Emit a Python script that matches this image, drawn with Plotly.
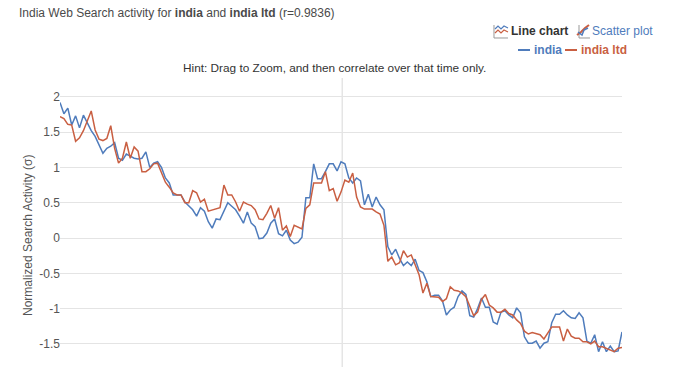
import plotly.graph_objects as go

india = [1.92,1.76,1.84,1.60,1.73,1.56,1.74,1.62,1.52,1.44,1.32,1.20,1.27,1.30,1.35,1.13,1.10,1.19,1.16,1.13,1.12,1.13,1.22,1.00,1.06,1.08,1.00,0.85,0.78,0.61,0.61,0.61,0.51,
0.46,0.40,0.31,0.43,0.38,0.23,0.14,0.27,0.26,0.38,0.50,0.45,0.40,0.31,0.21,0.37,0.21,0.16,-0.01,0.00,0.07,0.21,0.27,0.06,0.03,0.11,-0.03,-0.08,-0.06,0.01,0.57,0.57,1.05,0.84,0.84,0.94,1.05,
1.05,0.95,1.08,1.05,0.85,0.78,0.85,0.81,0.47,0.62,0.44,0.58,0.47,0.40,-0.12,-0.24,-0.16,-0.29,-0.39,-0.34,-0.39,-0.30,-0.46,-0.49,-0.62,-0.83,-0.81,-0.81,-0.89,-1.09,-1.02,-0.98,-0.83,-0.75,-0.80,-1.10,-1.12,-1.00,
-0.85,-0.98,-0.98,-1.19,-1.22,-1.05,-1.03,-1.09,-1.13,-0.99,-1.06,-1.40,-1.49,-1.49,-1.46,-1.56,-1.49,-1.47,-1.20,-1.08,-1.08,-1.03,-1.09,-1.13,-1.14,-1.06,-1.13,-1.46,-1.49,-1.37,-1.61,-1.47,-1.61,-1.53,-1.61,-1.60,-1.33]
india_ltd = [1.72,1.69,1.61,1.60,1.37,1.42,1.52,1.67,1.80,1.53,1.40,1.38,1.41,1.59,1.27,1.06,1.13,1.36,1.13,1.29,1.23,0.94,0.94,0.98,1.05,1.06,0.92,0.79,0.72,0.64,0.61,0.61,0.50,
0.50,0.67,0.64,0.51,0.55,0.38,0.40,0.41,0.43,0.75,0.61,0.61,0.51,0.38,0.51,0.48,0.46,0.40,0.27,0.26,0.35,0.46,0.28,0.43,0.11,0.17,0.02,0.18,0.16,0.13,0.42,0.47,0.78,0.78,0.78,0.94,0.67,
0.70,0.52,0.65,0.82,0.79,0.92,0.58,0.44,0.41,0.41,0.41,0.37,0.34,0.18,-0.33,-0.27,-0.38,-0.35,-0.18,-0.27,-0.24,-0.38,-0.52,-0.78,-0.64,-0.83,-0.84,-0.84,-0.90,-0.86,-0.69,-0.74,-0.75,-0.78,-0.83,-0.98,-1.10,-1.05,
-0.87,-0.80,-0.95,-0.99,-1.05,-1.05,-1.01,-1.07,-1.09,-1.16,-1.21,-1.32,-1.36,-1.34,-1.36,-1.37,-1.43,-1.35,-1.26,-1.26,-1.26,-1.46,-1.29,-1.39,-1.42,-1.42,-1.47,-1.47,-1.50,-1.46,-1.54,-1.54,-1.56,-1.59,-1.61,-1.56,-1.55]
time_index = list(range(len(india)))
y_ticks = [2, 1.5, 1, 0.5, 0, -0.5, -1, -1.5]
y_tick_labels = ["2", "1.5", "1", "0.5", "0", "-0.5", "-1", "-1.5"]
crosshair_at = 72.3

W, H = 688, 367
L, R, T, B = 60, 622, 78, 367
BLUE, RED = "#4f7cbc", "#c95f42"
FONT = "Liberation Sans"

def px(x):
    return (x - L) / (R - L)
def py(y):
    return (B - y) / (B - T)

fig = go.Figure()
fig.add_trace(go.Scatter(x=time_index, y=india, mode="lines", name="india",
                         line=dict(color=BLUE, width=1.5), hoverinfo="y"))
fig.add_trace(go.Scatter(x=time_index, y=india_ltd, mode="lines", name="india ltd",
                         line=dict(color=RED, width=1.5), hoverinfo="y"))

def note(x, y, text, size=12, color="#444", **kw):
    return dict(x=px(x - 2), y=py(y), xref="paper", yref="paper", text=text, showarrow=False,
                xanchor="left", yanchor="middle", align="left",
                font=dict(family=FONT, size=size, color=color), **kw)

annotations = [
    note(18.5, 13, "India Web Search activity for <b>india</b> and <b>india ltd</b> (r=0.9836)", 12, "#4a4a4a"),
    note(510.5, 31, "<b>Line chart</b>", 12, "#333"),
    note(592, 31, "Scatter plot", 12, BLUE),
    note(534, 50, "<b>india</b>", 12, BLUE),
    note(581, 50, "<b>india ltd</b>", 12, RED),
    note(183, 68, "Hint: Drag to Zoom, and then correlate over that time only.", 11.8, "#333"),
    dict(x=px(27.5), y=py(235.5), xref="paper", yref="paper", text="Normalized Search Activity (σ)",
         showarrow=False, textangle=-90, xanchor="center", yanchor="middle",
         font=dict(family=FONT, size=12, color="#555")),
]

def seg(x0, y0, x1, y1, color, width=1.5):
    return dict(type="line", xref="paper", yref="paper", x0=px(x0), x1=px(x1),
                y0=py(y0), y1=py(y1), line=dict(color=color, width=width))

def poly(points, color, width=1):
    d = "M" + " L".join(f"{px(a):.5f},{py(b):.5f}" for a, b in points)
    return dict(type="path", xref="paper", yref="paper", path=d, line=dict(color=color, width=width))

shapes = [
    dict(type="line", x0=crosshair_at, x1=crosshair_at, xref="x", yref="paper", y0=0, y1=1,
         line=dict(color="#d8d8d8", width=1), layer="below"),
    seg(518, 50, 530, 50, BLUE, 2),
    seg(565, 50, 577, 50, RED, 2),
    # line-chart icon
    poly([(494, 25), (494, 38), (508, 38)], "#999", 1),
    poly([(495, 29), (498, 26), (501, 29), (504, 26), (508, 28)], BLUE, 1.2),
    poly([(495, 33), (498, 30), (501, 33), (504, 30), (508, 32)], RED, 1.2),
    # scatter-plot icon
    poly([(579, 25), (579, 38), (590, 38)], "#999", 1),
    poly([(577, 35), (581, 32), (585, 28), (589, 25)], RED, 2),
    poly([(578, 32), (582, 35), (584, 30), (588, 28)], BLUE, 1.5),
]

fig.update_layout(
    width=W, height=H, autosize=False,
    margin=dict(l=L, r=W - R, t=T, b=H - B, pad=0),
    paper_bgcolor="white", plot_bgcolor="white",
    showlegend=False, annotations=annotations, shapes=shapes,
    font=dict(family=FONT, size=12, color="#444"),
    xaxis=dict(range=[0, len(india) - 1], showgrid=False, zeroline=False,
               showticklabels=False, ticks="", showline=False),
    yaxis=dict(range=[(238 - B) / 70.6, (238 - T) / 70.6], tickvals=y_ticks, ticktext=y_tick_labels,
               showgrid=True, gridcolor="#e4e4e4", gridwidth=1, zeroline=False, ticks="",
               showline=False, ticklabelstandoff=-1, tickfont=dict(family=FONT, size=12, color="#555")),
)
fig.write_html("out.html", config={"displayModeBar": False},
               post_script="document.body.style.margin='0';document.documentElement.style.overflow='hidden';")
